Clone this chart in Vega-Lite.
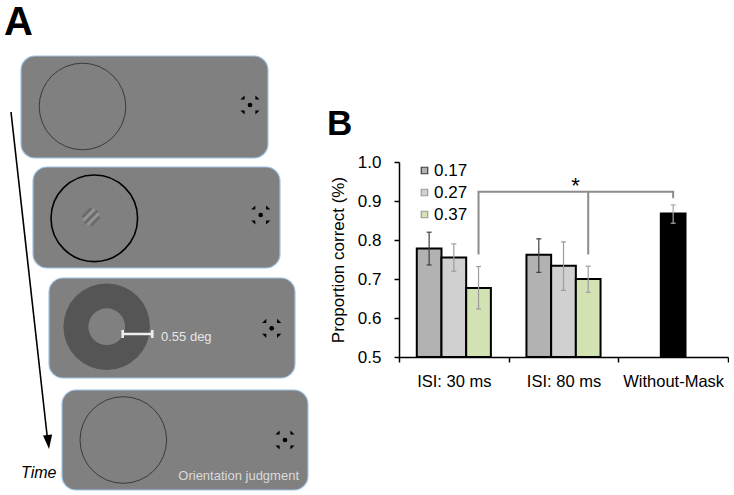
{
"$schema": "https://vega.github.io/schema/vega-lite/v6.json",
"padding": 0,
"background": "white",
"config": {
  "view": {"stroke": null},
  "font": "Liberation Sans",
  "axisY": {"labelFontSize": 17, "labelColor": "black", "tickColor": "black", "domainColor": "black", "domainWidth": 1.5, "tickWidth": 1.5, "tickSize": 5, "labelPadding": 13, "grid": false, "titleFontSize": 17, "titleFontWeight": "normal", "titleColor": "black", "titlePadding": 10, "labelOverlap": false},
  "axisX": {"labelFontSize": 16.5, "labelColor": "black", "tickColor": "black", "domainColor": "black", "domainWidth": 1.5, "tickWidth": 1.5, "tickSize": 5, "labelPadding": 11, "grid": false, "labelAngle": 0, "tickBand": "extent"}
},
"datasets": {
  "frames": [
    {"x": 21, "x2": 268, "y": 56, "y2": 158},
    {"x": 33, "x2": 280, "y": 167, "y2": 268},
    {"x": 49, "x2": 295, "y": 278, "y2": 378},
    {"x": 62, "x2": 308, "y": 390, "y2": 490}
  ],
  "thinCircles": [{"x": 82.5, "y": 106.5}, {"x": 123.3, "y": 440}],
  "boldCircle": [{"x": 94.3, "y": 218.3}],
  "annulus": [{"x": 106.7, "y": 326.7}],
  "gabor": [
    {"x": 83.9, "y": 219.8, "x2": 93.8, "y2": 209.9, "tone": "light"},
    {"x": 88.2, "y": 224.1, "x2": 98.1, "y2": 214.2, "tone": "light"},
    {"x": 83.2, "y": 216.3, "x2": 90.3, "y2": 209.2, "tone": "dark"},
    {"x": 85.3, "y": 222.7, "x2": 96.7, "y2": 211.3, "tone": "dark"},
    {"x": 91.7, "y": 224.8, "x2": 98.8, "y2": 217.7, "tone": "dark"}
  ],
  "scalebar": [
    {"x": 122.7, "y": 334, "x2": 152.3, "y2": 334},
    {"x": 122.7, "y": 330, "x2": 122.7, "y2": 338},
    {"x": 152.3, "y": 330, "x2": 152.3, "y2": 338}
  ],
  "fixDots": [{"x": 250, "y": 105}, {"x": 260.7, "y": 215}, {"x": 271.7, "y": 328.3}, {"x": 285, "y": 440}],
  "fixTri": [
    {"x": 242.5, "y": 97.5, "corner": "tl"}, {"x": 257.5, "y": 97.5, "corner": "tr"}, {"x": 242.5, "y": 112.5, "corner": "bl"}, {"x": 257.5, "y": 112.5, "corner": "br"},
    {"x": 253.2, "y": 207.5, "corner": "tl"}, {"x": 268.2, "y": 207.5, "corner": "tr"}, {"x": 253.2, "y": 222.5, "corner": "bl"}, {"x": 268.2, "y": 222.5, "corner": "br"},
    {"x": 264.2, "y": 320.8, "corner": "tl"}, {"x": 279.2, "y": 320.8, "corner": "tr"}, {"x": 264.2, "y": 335.8, "corner": "bl"}, {"x": 279.2, "y": 335.8, "corner": "br"},
    {"x": 277.5, "y": 432.5, "corner": "tl"}, {"x": 292.5, "y": 432.5, "corner": "tr"}, {"x": 277.5, "y": 447.5, "corner": "bl"}, {"x": 292.5, "y": 447.5, "corner": "br"}
  ],
  "timeLine": [{"x": 11, "y": 112, "x2": 47.6, "y2": 440}],
  "arrowHead": [{"x": 48.3, "y": 442}],
  "bars": [
    {"cond": "ISI: 30 ms", "level": "0.17", "value": 0.778, "lo": 0.736, "hi": 0.820},
    {"cond": "ISI: 30 ms", "level": "0.27", "value": 0.755, "lo": 0.720, "hi": 0.790},
    {"cond": "ISI: 30 ms", "level": "0.37", "value": 0.677, "lo": 0.623, "hi": 0.732},
    {"cond": "ISI: 80 ms", "level": "0.17", "value": 0.762, "lo": 0.717, "hi": 0.803},
    {"cond": "ISI: 80 ms", "level": "0.27", "value": 0.734, "lo": 0.671, "hi": 0.795},
    {"cond": "ISI: 80 ms", "level": "0.37", "value": 0.700, "lo": 0.666, "hi": 0.733}
  ],
  "wm": [{"cond": "Without-Mask", "value": 0.868, "lo": 0.843, "hi": 0.890}],
  "bracket": [
    {"cond": "ISI: 30 ms", "slot": "0.37", "y": 0.763, "o": 1},
    {"cond": "ISI: 30 ms", "slot": "0.37", "y": 0.924, "o": 2},
    {"cond": "Without-Mask", "slot": "0.27", "y": 0.924, "o": 3},
    {"cond": "Without-Mask", "slot": "0.27", "y": 0.907, "o": 4}
  ],
  "drop": [{"cond": "ISI: 80 ms", "slot": "0.37", "y": 0.763, "y2": 0.924}],
  "star": [{"cond": "ISI: 80 ms", "y": 0.92, "t": "*"}]
},
"resolve": {"scale": {"color": "independent", "shape": "independent", "stroke": "independent"}, "legend": {"color": "independent", "shape": "independent", "stroke": "independent"}},
"hconcat": [
  {
    "width": 310,
    "height": 495,
    "encoding": {
      "x": {"field": "x", "type": "quantitative", "scale": {"domain": [0, 310], "nice": false, "zero": false}, "axis": null},
      "y": {"field": "y", "type": "quantitative", "scale": {"domain": [0, 495], "reverse": true, "nice": false, "zero": false}, "axis": null}
    },
    "layer": [
      {"data": {"name": "frames"}, "mark": {"type": "rect", "fill": "#808080", "stroke": "#9dc3e6", "strokeWidth": 1.2, "cornerRadius": 14}, "encoding": {"x2": {"field": "x2"}, "y2": {"field": "y2"}}},
      {"data": {"name": "annulus"}, "mark": {"type": "point", "shape": "circle", "filled": true, "color": "#555555", "opacity": 1, "size": 7500}},
      {"data": {"name": "annulus"}, "mark": {"type": "point", "shape": "circle", "filled": true, "color": "#808080", "opacity": 1, "size": 1347}},
      {"data": {"name": "thinCircles"}, "mark": {"type": "point", "shape": "circle", "filled": false, "color": "#3a3a3a", "strokeWidth": 1, "opacity": 1, "size": 7500}},
      {"data": {"name": "boldCircle"}, "mark": {"type": "point", "shape": "circle", "filled": false, "color": "#000000", "strokeWidth": 1.6, "opacity": 1, "size": 7500}},
      {"data": {"name": "gabor"}, "mark": {"type": "rule", "strokeWidth": 2.6, "strokeCap": "round", "opacity": 0.45}, "encoding": {"x2": {"field": "x2"}, "y2": {"field": "y2"}, "color": {"field": "tone", "type": "nominal", "scale": {"domain": ["dark", "light"], "range": ["#505050", "#b0b0b0"]}, "legend": null}}},
      {"data": {"name": "scalebar"}, "mark": {"type": "rule", "color": "#eeeeee", "strokeWidth": 2.5}, "encoding": {"x2": {"field": "x2"}, "y2": {"field": "y2"}}},
      {"data": {"name": "fixDots"}, "mark": {"type": "point", "shape": "circle", "filled": true, "color": "#000000", "opacity": 1, "size": 22}},
      {"data": {"name": "fixTri"}, "mark": {"type": "point", "filled": true, "color": "#000000", "opacity": 1, "size": 18}, "encoding": {"shape": {"field": "corner", "type": "nominal", "scale": {"domain": ["tl", "tr", "bl", "br"], "range": ["M 1 -1 L 1 1 L -1 1 Z", "M -1 -1 L -1 1 L 1 1 Z", "M -1 -1 L 1 -1 L 1 1 Z", "M -1 -1 L 1 -1 L -1 1 Z"]}, "legend": null}}},
      {"data": {"name": "timeLine"}, "mark": {"type": "rule", "color": "#000000", "strokeWidth": 1.6}, "encoding": {"x2": {"field": "x2"}, "y2": {"field": "y2"}}},
      {"data": {"name": "arrowHead"}, "mark": {"type": "point", "shape": "M -0.65 -1 L 0.65 -1 L 0 1 Z", "filled": true, "color": "#000000", "opacity": 1, "size": 200, "angle": -6}},
      {"data": {"values": [{"x": 4, "y": 35, "t": "A"}]}, "mark": {"type": "text", "fontSize": 40, "fontWeight": "bold", "align": "left", "baseline": "alphabetic", "color": "#000000"}, "encoding": {"text": {"field": "t"}}},
      {"data": {"values": [{"x": 21, "y": 478, "t": "Time"}]}, "mark": {"type": "text", "fontSize": 16, "fontStyle": "italic", "align": "left", "baseline": "alphabetic", "color": "#000000"}, "encoding": {"text": {"field": "t"}}},
      {"data": {"values": [{"x": 161, "y": 340.5, "t": "0.55 deg"}]}, "mark": {"type": "text", "fontSize": 13, "align": "left", "baseline": "alphabetic", "color": "#e6e6e6"}, "encoding": {"text": {"field": "t"}}},
      {"data": {"values": [{"x": 299, "y": 480, "t": "Orientation judgment"}]}, "mark": {"type": "text", "fontSize": 13, "align": "right", "baseline": "alphabetic", "color": "#dadada"}, "encoding": {"text": {"field": "t"}}}
    ]
  },
  {
    "bounds": "flush",
    "spacing": 12,
    "resolve": {"scale": {"color": "independent", "stroke": "independent"}, "legend": {"color": "independent", "stroke": "independent"}},
    "vconcat": [
      {"width": 329, "height": 150, "data": {"values": []}, "mark": "point", "encoding": {}},
      {
        "width": 329,
        "height": 195,
        "title": {"text": "B", "anchor": "start", "frame": "group", "fontSize": 35, "fontWeight": "bold", "color": "#000000", "dx": -72, "dy": 35, "offset": 18, "baseline": "alphabetic"},
        "encoding": {
          "x": {"field": "cond", "type": "nominal", "scale": {"domain": ["ISI: 30 ms", "ISI: 80 ms", "Without-Mask"], "paddingInner": 0, "paddingOuter": 0}, "title": null}
        },
        "layer": [
          {"data": {"name": "bars"}, "mark": {"type": "bar", "stroke": "#000000", "strokeWidth": 2},
           "encoding": {
             "xOffset": {"field": "level", "type": "nominal", "scale": {"domain": ["0.17", "0.27", "0.37"], "paddingInner": 0, "paddingOuter": 0.72}},
             "y": {"field": "value", "type": "quantitative", "scale": {"domain": [0.5, 1.0], "zero": false, "nice": false}, "axis": {"values": [0.5, 0.6, 0.7, 0.8, 0.9, 1.0], "format": ".1f", "labelOverlap": false}, "title": "Proportion correct (%)"},
             "y2": {"datum": 0.5},
             "color": {"field": "level", "type": "nominal", "scale": {"domain": ["0.17", "0.27", "0.37"], "range": ["#b2b2b2", "#d0d0d0", "#d3e2b2"]},
               "legend": {"title": null, "orient": "none", "legendX": 17, "legendY": 0, "symbolType": "square", "symbolSize": 42, "symbolStrokeColor": "#000000", "symbolStrokeWidth": 1.2, "labelFontSize": 17, "labelColor": "#000000", "labelOffset": 1, "rowPadding": 4, "padding": 0}}
           }},
          {"data": {"name": "wm"}, "mark": {"type": "bar", "stroke": "#000000", "strokeWidth": 2, "color": "#000000"},
           "encoding": {
             "xOffset": {"datum": "0.27"},
             "y": {"field": "value", "type": "quantitative", "axis": {"values": [0.5, 0.6, 0.7, 0.8, 0.9, 1.0], "format": ".1f", "labelOverlap": false}, "title": "Proportion correct (%)"},
             "y2": {"datum": 0.5}
           }},
          {"data": {"name": "bars"}, "mark": {"type": "rule", "strokeWidth": 1.2},
           "encoding": {
             "xOffset": {"field": "level", "type": "nominal"},
             "y": {"field": "lo", "type": "quantitative", "axis": {"values": [0.5, 0.6, 0.7, 0.8, 0.9, 1.0], "format": ".1f", "labelOverlap": false}, "title": "Proportion correct (%)"},
             "y2": {"field": "hi"},
             "stroke": {"field": "level", "type": "nominal", "scale": {"domain": ["0.17", "0.27", "0.37"], "range": ["#3f3f3f", "#9c9c9c", "#9c9c9c"]}, "legend": null}
           }},
          {"data": {"name": "bars"}, "transform": [{"fold": ["lo", "hi"], "as": ["end", "pos"]}],
           "mark": {"type": "point", "shape": "M -1 0 L 1 0", "filled": false, "strokeWidth": 1.2, "size": 25, "opacity": 1},
           "encoding": {
             "xOffset": {"field": "level", "type": "nominal"},
             "y": {"field": "pos", "type": "quantitative", "axis": {"values": [0.5, 0.6, 0.7, 0.8, 0.9, 1.0], "format": ".1f", "labelOverlap": false}, "title": "Proportion correct (%)"},
             "stroke": {"field": "level", "type": "nominal", "legend": null}
           }},
          {"data": {"name": "wm"}, "mark": {"type": "rule", "strokeWidth": 1.2, "color": "#a6a6a6"},
           "encoding": {
             "xOffset": {"datum": "0.27"},
             "y": {"field": "lo", "type": "quantitative", "axis": {"values": [0.5, 0.6, 0.7, 0.8, 0.9, 1.0], "format": ".1f", "labelOverlap": false}, "title": "Proportion correct (%)"},
             "y2": {"field": "hi"}
           }},
          {"data": {"name": "wm"}, "transform": [{"fold": ["lo", "hi"], "as": ["end", "pos"]}],
           "mark": {"type": "point", "shape": "M -1 0 L 1 0", "filled": false, "strokeWidth": 1.2, "size": 25, "opacity": 1, "color": "#a6a6a6"},
           "encoding": {
             "xOffset": {"datum": "0.27"},
             "y": {"field": "pos", "type": "quantitative", "axis": {"values": [0.5, 0.6, 0.7, 0.8, 0.9, 1.0], "format": ".1f", "labelOverlap": false}, "title": "Proportion correct (%)"}
           }},
          {"data": {"name": "bracket"}, "mark": {"type": "line", "color": "#8c8c8c", "strokeWidth": 2, "strokeJoin": "miter"},
           "encoding": {
             "xOffset": {"field": "slot", "type": "nominal"},
             "y": {"field": "y", "type": "quantitative", "axis": {"values": [0.5, 0.6, 0.7, 0.8, 0.9, 1.0], "format": ".1f", "labelOverlap": false}, "title": "Proportion correct (%)"},
             "order": {"field": "o", "type": "quantitative"}
           }},
          {"data": {"name": "drop"}, "mark": {"type": "rule", "color": "#8c8c8c", "strokeWidth": 2},
           "encoding": {
             "xOffset": {"field": "slot", "type": "nominal"},
             "y": {"field": "y", "type": "quantitative", "axis": {"values": [0.5, 0.6, 0.7, 0.8, 0.9, 1.0], "format": ".1f", "labelOverlap": false}, "title": "Proportion correct (%)"},
             "y2": {"field": "y2"}
           }},
          {"data": {"name": "star"}, "mark": {"type": "text", "fontSize": 22, "baseline": "alphabetic", "color": "#000000"},
           "encoding": {
             "x": {"field": "cond", "type": "nominal", "bandPosition": 0.61},
             "y": {"field": "y", "type": "quantitative", "axis": {"values": [0.5, 0.6, 0.7, 0.8, 0.9, 1.0], "format": ".1f", "labelOverlap": false}, "title": "Proportion correct (%)"},
             "text": {"field": "t"}
           }}
        ]
      }
    ]
  }
],
"spacing": 89,
"bounds": "flush"
}
